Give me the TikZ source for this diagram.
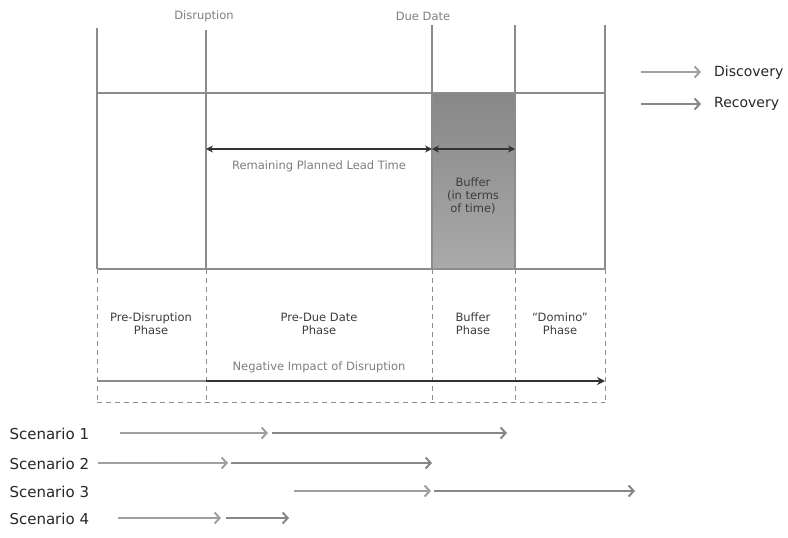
\documentclass[tikz,border=0pt]{standalone}
\usepackage{fontspec}
\setmainfont{DejaVu Sans}
\usetikzlibrary{arrows.meta,positioning,calc}

\definecolor{linegray}{RGB}{140,140,140}
\definecolor{textgray}{RGB}{125,125,125}
\definecolor{darktext}{RGB}{60,60,60}
\definecolor{bufftop}{RGB}{135,135,135}
\definecolor{buffbot}{RGB}{170,170,170}
\definecolor{discgray}{RGB}{160,160,160}
\definecolor{recgray}{RGB}{135,135,135}

\begin{document}
\begin{tikzpicture}[x=1pt,y=-1pt,
    frame/.style={draw=linegray, line width=1.3pt},
    phaseline/.style={draw=linegray, line width=1pt, dash pattern=on 5pt off 4pt},
    span/.style={draw=black!80, line width=1.4pt, {Stealth[length=7pt,width=7pt]}-{Stealth[length=7pt,width=7pt]}},
    discov/.style={draw=discgray, line width=2pt, -{Straight Barb[length=5pt,width=11pt,line width=2pt]}},
    recov/.style={draw=recgray, line width=2pt, -{Straight Barb[length=5pt,width=11pt,line width=2pt]}},
    small/.style={font=\fontsize{11.5}{13}\selectfont, text=textgray},
    phase/.style={font=\fontsize{11.5}{13}\selectfont, text=darktext, align=center},
    big/.style={font=\fontsize{15}{17}\selectfont, text=black!85},
    legend/.style={font=\fontsize{14}{16}\selectfont, text=black!85, inner sep=1pt},
]
    \useasboundingbox (0,0) rectangle (788,538);

    % Buffer block
    \shade[top color=bufftop, bottom color=buffbot] (432,93) rectangle (515,269);

    % Time grid
    \draw[frame] (97,28) -- (97,269);
    \draw[frame] (206,30) -- (206,269);
    \draw[frame] (432,25) -- (432,269);
    \draw[frame] (515,25) -- (515,269);
    \draw[frame] (605,25) -- (605,269);
    \draw[frame] (97,93) -- (605,93);
    \draw[frame] (97,269) -- (605,269);

    % Milestones
    \node[small] (disr) at (204,16) {Disruption};
    \node[small] (due) at (423,16) {Due Date};

    % Lead time and buffer
    \coordinate (lt0) at (206,149);
    \coordinate (lt1) at (432,149);
    \coordinate (lt2) at (515,149);
    \draw[span] (lt0) -- (lt1);
    \draw[span] (lt1) -- (lt2);
    \node[small] (lead) at (319,166) {Remaining Planned Lead Time};
    \node[phase] (buff) at (473,196) {Buffer\\(in terms\\of time)};

    % Phases
    \foreach \x in {97,206,432,515,605}
        \draw[phaseline] (\x,269) -- (\x,402);
    \draw[phaseline] (97,402) -- (605,402);
    \node[phase] (pre) at (151,324) {Pre-Disruption\\Phase};
    \node[phase] (predue) at (319,324) {Pre-Due Date\\Phase};
    \node[phase] (bufph) at (473,324) {Buffer\\Phase};
    \node[phase] (dom) at (560,324) {``Domino''\\Phase};

    % Negative impact
    \coordinate (n0) at (97,381);
    \coordinate (n1) at (206,381);
    \coordinate (n2) at (605,381);
    \draw[draw=linegray, line width=1.2pt] (n0) -- (n1);
    \draw[draw=black!80, line width=1.5pt, -{Stealth[length=8pt,width=8pt]}] (n1) -- (n2);
    \node[small] (neg) at (319,367) {Negative Impact of Disruption};

    % Legend
    \node[legend, anchor=west] (ldisc) at (713,73) {Discovery};
    \node[legend, anchor=west] (lrec) at (713,104) {Recovery};
    \coordinate (d0) at (641,72);
    \coordinate (d1) at (701,72);
    \coordinate (r0) at (641,104);
    \coordinate (r1) at (701,104);
    \draw[discov] (d0) -- (d1);
    \draw[recov] (r0) -- (r1);

    % Scenarios
    \foreach \i/\y/\a/\b/\c/\d in {1/433/120/268/272/507, 2/463/98/228/231/432, 3/491/294/431/434/635, 4/518/118/221/226/289} {
        \node[big, anchor=west] (scen\i) at (6,\y+1) {Scenario \i};
        \draw[discov] (\a,\y) -- (\b,\y);
        \draw[recov] (\c,\y) -- (\d,\y);
    }
\end{tikzpicture}
\end{document}
